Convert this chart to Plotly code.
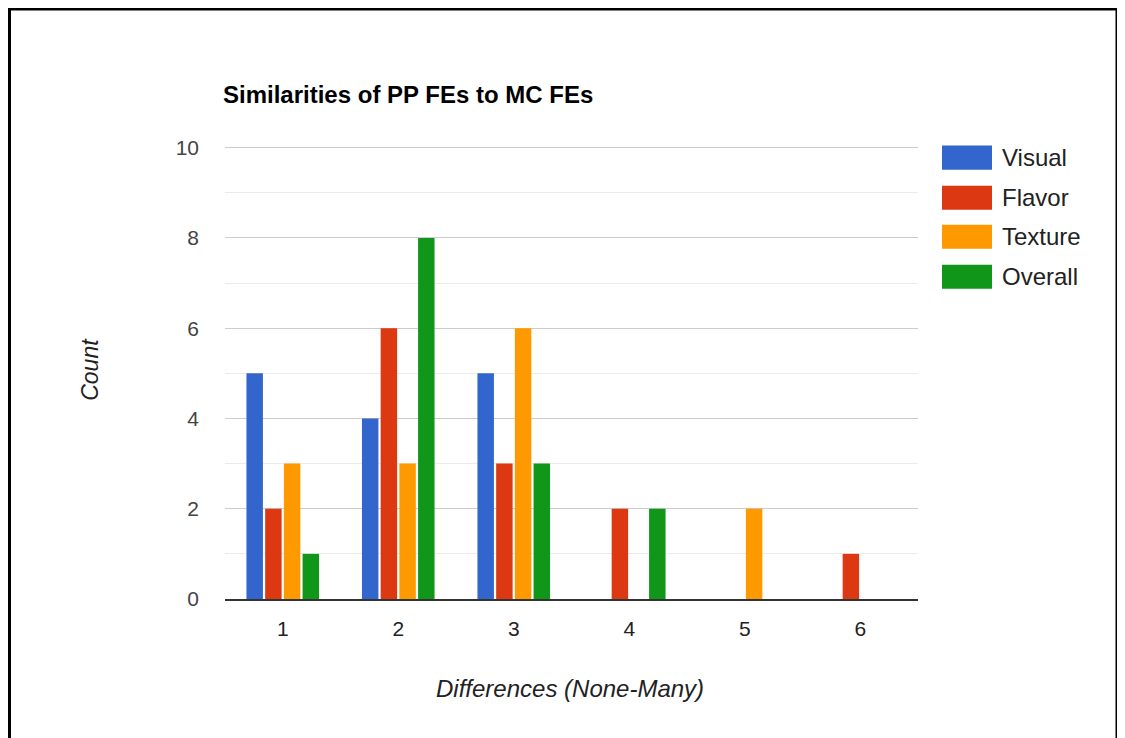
import plotly.graph_objects as go

categories = ["1", "2", "3", "4", "5", "6"]
visual = [5, 4, 5, 0, 0, 0]
flavor = [2, 6, 3, 2, 0, 1]
texture = [3, 3, 6, 0, 2, 0]
overall = [1, 8, 3, 2, 0, 0]
series_names = ["Visual", "Flavor", "Texture", "Overall"]
series_colors = ["#3366cc", "#dc3912", "#ff9900", "#109618"]
y_ticks = [0, 2, 4, 6, 8, 10]

Y_TOP = 10.08  # small headroom so the gridline at 10 is drawn
OFF = 8  # page body margin
W, H = 1125 - OFF, 738 - OFF
L, R, B = 225, 918, 599  # screen coordinates of plot area
T = B - (B - 148) * Y_TOP / 10.0
pw, ph = R - L, B - T

def px(x):
    return (x - L) / pw

def py(y):
    return (B - y) / ph

fig = go.Figure()
for name, vals, col in zip(series_names, [visual, flavor, texture, overall], series_colors):
    fig.add_trace(go.Bar(x=categories, y=vals, name=name, marker=dict(color=col, line=dict(width=0)),
                         showlegend=False))

font = "Liberation Sans, Arial, sans-serif"
fig.update_layout(
    width=W, height=H,
    margin=dict(l=L - OFF, r=W - (R - OFF), t=T - OFF, b=H - (B - OFF), pad=0),
    plot_bgcolor="white", paper_bgcolor="white",
    barmode="group", bargap=0.352, bargroupgap=0.12,
    font=dict(family=font, size=21, color="#444444"),
    xaxis=dict(type="category", showgrid=False, zeroline=False, showline=True,
               linecolor="#333333", linewidth=2, ticks="", ticklabelstandoff=10,
               tickfont=dict(size=21, color="#222222")),
    yaxis=dict(range=[0, Y_TOP], tickvals=y_ticks, showgrid=True, gridcolor="#cccccc", gridwidth=1,
               zeroline=False, showline=False, ticks="", ticklabelstandoff=25,
               tickfont=dict(size=21, color="#444444"),
               minor=dict(dtick=1, showgrid=True, gridcolor="#ebebeb", gridwidth=1)),
    annotations=[
        dict(text="<b>Similarities of PP FEs to MC FEs</b>", x=px(221), y=py(95), xref="paper", yref="paper",
             xanchor="left", yanchor="middle", showarrow=False, font=dict(size=24, color="#000000", family=font)),
        dict(text="<i>Count</i>", x=px(90), y=py(370), xref="paper", yref="paper", textangle=-90,
             xanchor="center", yanchor="middle", showarrow=False, font=dict(size=23, color="#222222", family=font)),
        dict(text="<i>Differences (None-Many)</i>", x=px(570), y=py(688), xref="paper", yref="paper",
             xanchor="center", yanchor="middle", showarrow=False, font=dict(size=24, color="#222222", family=font)),
    ],
)

# custom legend with large swatches
leg_y = [158, 198, 237, 277]
for name, col, yc in zip(series_names, series_colors, leg_y):
    fig.add_shape(type="rect", xref="paper", yref="paper", x0=px(942), x1=px(992),
                  y0=py(yc - 12), y1=py(yc + 12), fillcolor=col, line=dict(width=0))
    fig.add_annotation(text=name, x=px(1000), y=py(yc), xref="paper", yref="paper",
                       xanchor="left", yanchor="middle", showarrow=False,
                       font=dict(size=24, color="#222222", family=font))

# outer frame (as close to the page edge as the figure allows)
fig.add_shape(type="rect", xref="paper", yref="paper", x0=px(9.5), x1=px(1117), y0=py(760), y1=py(9.5),
              line=dict(color="#000000", width=3), fillcolor="rgba(0,0,0,0)", layer="above")

fig.write_html("out.html")
